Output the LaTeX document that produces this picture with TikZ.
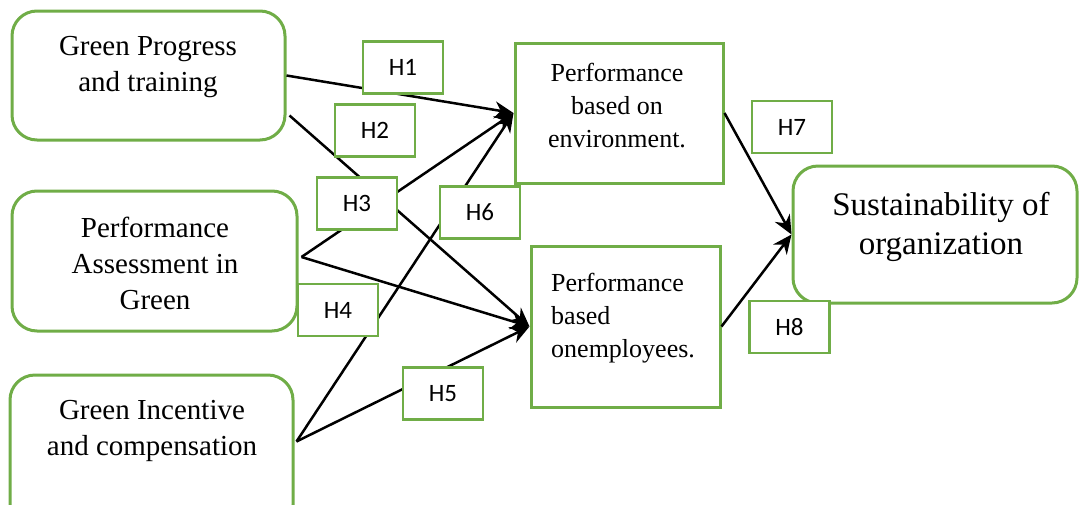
\documentclass[tikz,border=0pt]{standalone}
\usepackage{fontspec}
\setmainfont{Liberation Serif}
\newfontfamily\hfont{Carlito}
\usetikzlibrary{arrows.meta,calc}
\definecolor{gr}{RGB}{112,173,71}
\begin{document}
\begin{tikzpicture}[x=1pt,y=-1pt,
  rbox/.style={draw=gr,line width=3pt,rounded corners=25pt,fill=white,inner sep=0pt},
  sbox/.style={draw=gr,line width=3pt,fill=white,inner sep=0pt},
  hbox/.style={draw=gr,line width=2.5pt,fill=white,minimum width=80pt,minimum height=52pt,font=\hfont\fontsize{25}{28}\selectfont,inner sep=0pt},
  ltxt/.style={align=center,font=\fontsize{29}{36}\selectfont,inner sep=0pt},
  mtxt/.style={font=\fontsize{26}{33}\selectfont,inner sep=0pt},
  conn/.style={line width=2.5pt,-{Stealth[length=19pt,width=17pt]}},
]
\path[use as bounding box] (0,0) rectangle (1079,504);
\clip (0,0) rectangle (1079,504);

% boxes
\node[rbox,minimum width=273pt,minimum height=129pt] (gpt) at (148.5,75.5) {};
\node[rbox,minimum width=285pt,minimum height=140pt] (pag) at (154.5,261) {};
\node[rbox,minimum width=283pt,minimum height=155pt] (gic) at (151.5,452.5) {};
\node[sbox,minimum width=208pt,minimum height=140pt] (pbe) at (619,113) {};
\node[sbox,minimum width=189pt,minimum height=161pt] (pbemp) at (625.5,326.5) {};
\node[rbox,minimum width=284pt,minimum height=137pt] (so) at (935,234.5) {};

% texts
\node[ltxt] (tgpt) at (148,67) {Green Progress\\and training};
\node[ltxt] (tpag) at (155,263) {Performance\\Assessment in\\Green};
\node[ltxt] (tgic) at (152,431) {Green Incentive\\and compensation};
\node[mtxt,align=center] (tpbe) at (617,106) {Performance\\based on\\environment.};
\node[mtxt,align=left,anchor=west] (tpbemp) at (551,318) {Performance\\based\\onemployees.};
\node[align=center,inner sep=0pt,font=\fontsize{33}{39}\selectfont] (tso) at (941,227) {Sustainability of\\organization};

% connectors
\coordinate (g2) at ([shift={(3,40)}]gpt.east);
\coordinate (pa) at ([shift={(3,-4)}]pag.east);
\coordinate (gi) at ([shift={(2,68)}]gic.north east);
\draw[conn] (gpt.east) -- (pbe.west);
\draw[conn] (g2) -- (pbemp.west);
\draw[conn] (pa) -- (pbe.west);
\draw[conn] (pa) -- (pbemp.west);
\draw[conn] (gi) -- (pbe.west);
\draw[conn] (gi) -- (pbemp.west);
\draw[conn] (pbe.east) -- (so.west);
\draw[conn] (pbemp.east) -- (so.west);

% hypothesis labels
\node[hbox] (h1) at (403,67.5) {H1};
\node[hbox] (h2) at (375,130.5) {H2};
\node[hbox] (h3) at (357,203.5) {H3};
\node[hbox] (h6) at (480,212.5) {H6};
\node[hbox] (h4) at (338,310) {H4};
\node[hbox] (h5) at (443,393.5) {H5};
\node[hbox] (h7) at (792,127) {H7};
\node[hbox] (h8) at (789.5,327) {H8};
\end{tikzpicture}
\end{document}
